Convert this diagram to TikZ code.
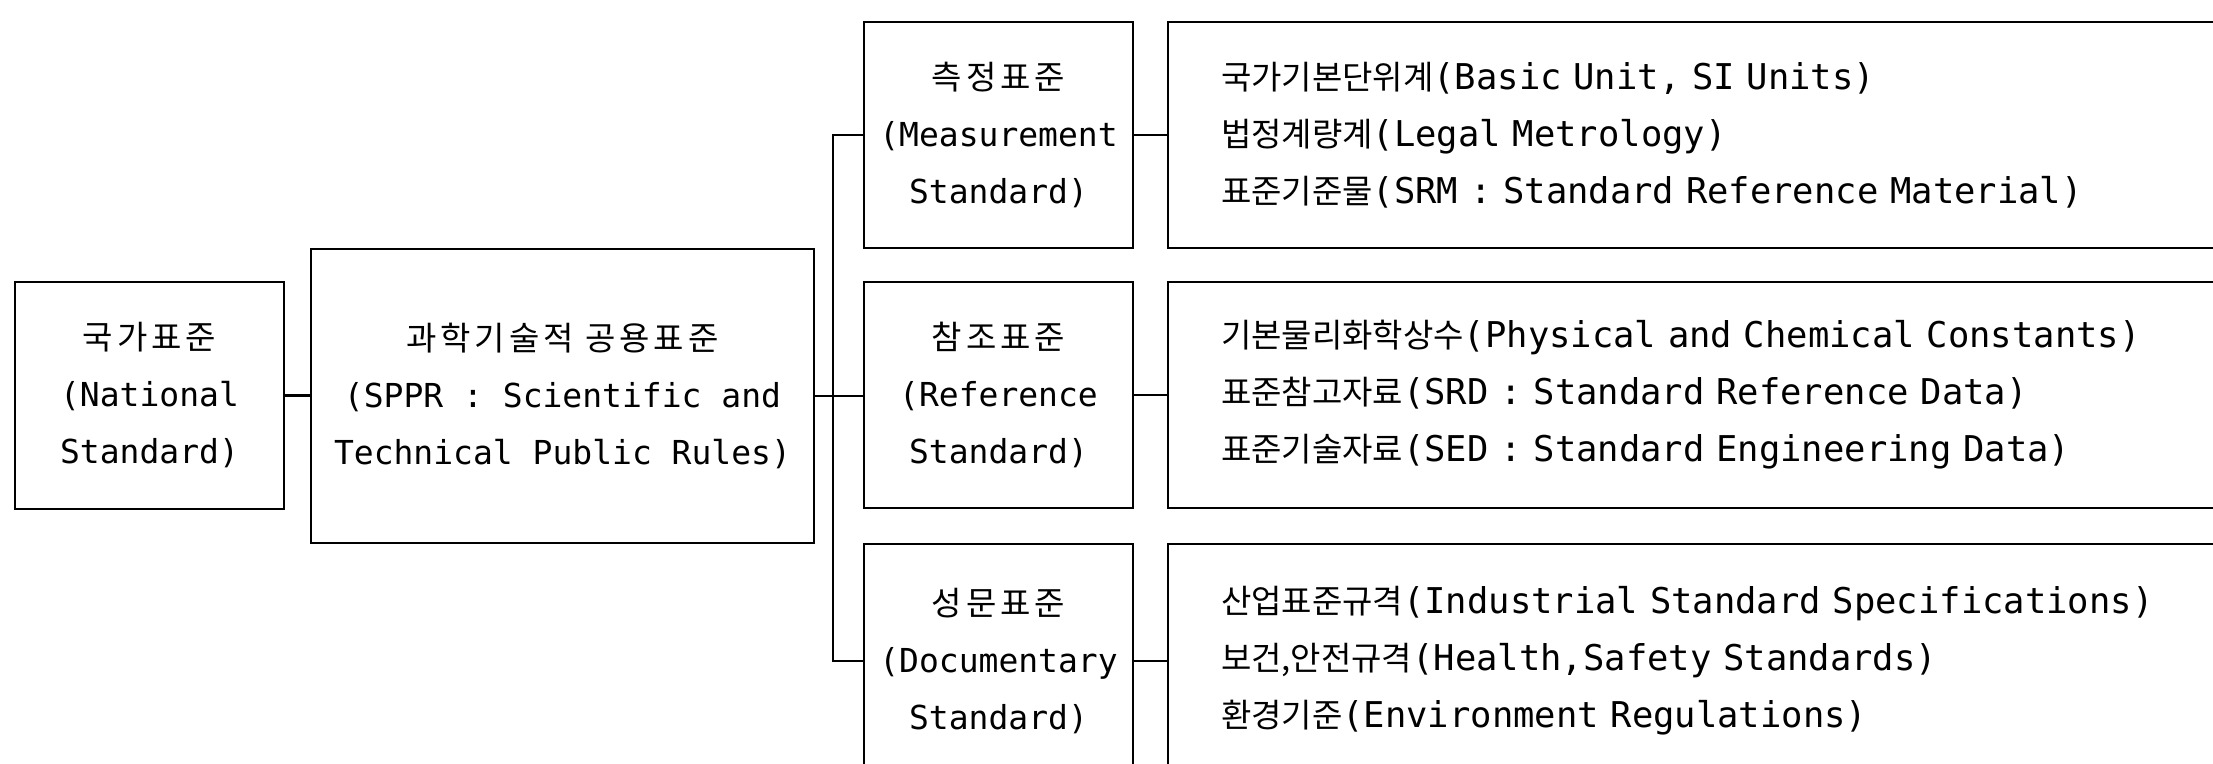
\documentclass[tikz,border=0pt]{standalone}
\usepackage{fontspec}
\setmainfont{DejaVu Sans Mono}
\newfontfamily\kr{Noto Sans CJK KR}
\newfontfamily\krs[LetterSpace=12]{Noto Sans CJK KR}
\newcommand{\hg}[1]{{\kr\fontsize{33}{57}\selectfont #1}}
\begin{document}
\begin{tikzpicture}[x=1pt,y=-1pt,
  box/.style={draw, line width=2.5pt, inner sep=0pt, outer sep=0pt,
    font=\fontsize{33}{57}\selectfont, align=center},
  midbox/.style={box, minimum width=269pt, minimum height=226pt},
  rightbox/.style={box, anchor=west, align=left, text width=956pt,
    inner xsep=53pt, minimum height=226pt, font=\fontsize{35.5}{57}\selectfont},
  conn/.style={line width=2.5pt}]
\useasboundingbox (0,0) rectangle (2213,763);
\clip (0,0) rectangle (2213,763);

\node[box, minimum width=269pt, minimum height=227pt] (nat) at (149.5,395.5)
  {{\krs 국가표준}\\(National\\Standard)};
\node[box, minimum width=503pt, minimum height=294pt] (sppr) at (562.5,396)
  {{\krs 과학기술적 공용표준}\\(SPPR : Scientific and\\Technical Public Rules)};

\node[midbox] (m1) at (998.5,135) {{\krs 측정표준}\\(Measurement\\Standard)};
\node[midbox] (m2) at (998.5,395) {{\krs 참조표준}\\(Reference\\Standard)};
\node[midbox, minimum height=234pt] (m3) at (998.5,661) {{\krs 성문표준}\\(Documentary\\Standard)};

\node[rightbox] (r1) at (1168,135)
  {\hg{국가기본단위계}(Basic Unit, SI Units)\\\hg{법정계량계}(Legal Metrology)\\\hg{표준기준물}(SRM : Standard Reference Material)};
\node[rightbox] (r2) at (1168,395)
  {\hg{기본물리화학상수}(Physical and Chemical Constants)\\\hg{표준참고자료}(SRD : Standard Reference Data)\\\hg{표준기술자료}(SED : Standard Engineering Data)};
\node[rightbox, minimum height=234pt] (r3) at (1168,661)
  {\hg{산업표준규격}(Industrial Standard Specifications)\\\hg{보건,안전규격}(Health,Safety Standards)\\\hg{환경기준}(Environment Regulations)};

\coordinate (bus) at (833,396);

\draw[conn] (nat.east) -- (nat.east -| sppr.west);
\draw[conn] (sppr.east) -- (bus);
\draw[conn] (m1.west) -| (bus) |- (m3.west);
\draw[conn] (bus) -- (bus -| m2.west);
\draw[conn] (m1.east) -- (r1.west);
\draw[conn] (m2.east) -- (r2.west);
\draw[conn] (m3.east) -- (r3.west);
\end{tikzpicture}
\end{document}
